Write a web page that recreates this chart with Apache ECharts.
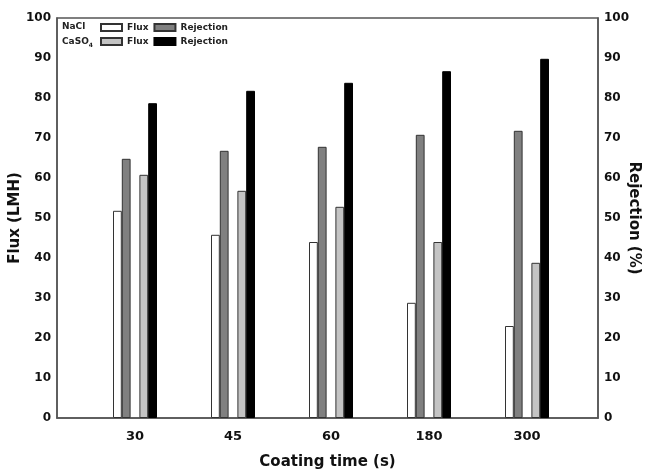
<!DOCTYPE html>
<html><head><meta charset="utf-8">
<script src="https://cdn.jsdelivr.net/npm/echarts@6/dist/echarts.min.js"></script>
<style>html,body{margin:0;padding:0;background:#fff}#c{width:650px;height:473px}</style>
</head><body><div id="c"></div>
<script>
const categories = ['30', '45', '60', '180', '300'];
const naclFlux = [51.8, 45.8, 44, 28.8, 23];
const naclRejection = [64.8, 66.8, 67.8, 70.8, 71.8];
const caso4Flux = [60.8, 56.8, 52.8, 44, 38.8];
const caso4Rejection = [78.7, 81.8, 83.8, 86.7, 89.8];
const yTicks = [0, 100, 10];

const F = 'DejaVu Sans';
const axisLineStyle = { color: '#555', width: 1.5 };
const chart = echarts.init(document.getElementById('c'));
const barBase = { type: 'bar', xAxisIndex: 1, yAxisIndex: 2, barWidth: 8.8, barGap: '0%' };
const legText = { fontFamily: F, fontSize: 9, fontWeight: 'bold', color: '#222' };
chart.setOption({
  animation: false,
  title: [
    { text: 'NaCl', left: 62, top: 22, padding: 0, textStyle: legText },
    { text: 'CaSO{s|4}', left: 62, top: 36, padding: 0, textStyle: Object.assign({}, legText, { rich: { s: { fontFamily: F, fontSize: 6, fontWeight: 'bold', color: '#222', verticalAlign: 'bottom', padding: [6, 0, 0, 0] } } }) }
  ],
  legend: [
    { data: ['NaCl Flux', 'NaCl Rejection'], left: 100, top: 23, icon: 'rect', itemWidth: 21, itemHeight: 7, itemGap: 5, padding: 0,
      formatter: n => n.split(' ')[1], textStyle: legText },
    { data: ['CaSO4 Flux', 'CaSO4 Rejection'], left: 100, top: 37, icon: 'rect', itemWidth: 21, itemHeight: 7, itemGap: 5, padding: 0,
      formatter: n => n.split(' ')[1], textStyle: legText }
  ],
  grid: [
    { left: 57, right: 52, top: 18, bottom: 55, show: true, borderColor: '#555', borderWidth: 1.5, containLabel: false, outerBoundsMode: 'none' },
    { left: 86, right: 74, top: 18, bottom: 55, containLabel: false, outerBoundsMode: 'none' }
  ],
  xAxis: [
    { type: 'value', gridIndex: 0, min: 0, max: 1, axisLine: { show: true, lineStyle: axisLineStyle }, axisTick: { show: false },
      axisLabel: { show: false }, splitLine: { show: false },
      name: 'Coating time (s)', nameLocation: 'middle', nameGap: 37, nameMoveOverlap: false,
      nameTextStyle: { fontFamily: F, fontSize: 15, fontWeight: 'bold', color: '#111' } },
    { type: 'category', gridIndex: 1, data: categories, axisLine: { show: false }, axisTick: { show: false },
      axisLabel: { fontFamily: F, fontSize: 13, fontWeight: 'bold', color: '#111', margin: 12 } }
  ],
  yAxis: [
    { type: 'value', gridIndex: 0, position: 'left', min: yTicks[0], max: yTicks[1], interval: yTicks[2],
      axisLine: { show: true, lineStyle: axisLineStyle }, axisTick: { show: false }, splitLine: { show: false },
      axisLabel: { fontFamily: F, fontSize: 12, fontWeight: 'bold', color: '#111', margin: 6 },
      name: 'Flux (LMH)', nameLocation: 'middle', nameGap: 34, nameMoveOverlap: false,
      nameTextStyle: { fontFamily: F, fontSize: 15, fontWeight: 'bold', color: '#111' } },
    { type: 'value', gridIndex: 0, position: 'right', min: yTicks[0], max: yTicks[1], interval: yTicks[2],
      axisLine: { show: true, lineStyle: axisLineStyle }, axisTick: { show: false }, splitLine: { show: false },
      axisLabel: { fontFamily: F, fontSize: 12, fontWeight: 'bold', color: '#111', margin: 6 },
      name: 'Rejection (%)', nameLocation: 'middle', nameGap: 28, nameRotate: -90, nameMoveOverlap: false,
      nameTextStyle: { fontFamily: F, fontSize: 15, fontWeight: 'bold', color: '#111' } },
    { type: 'value', gridIndex: 1, min: yTicks[0], max: yTicks[1], show: false }
  ],
  series: [
    Object.assign({ name: 'NaCl Flux', data: naclFlux, itemStyle: { color: '#ffffff', borderColor: '#333', borderWidth: 1 } }, barBase),
    Object.assign({ name: 'NaCl Rejection', data: naclRejection, itemStyle: { color: '#808080', borderColor: '#333', borderWidth: 1 } }, barBase),
    Object.assign({ name: 'gap', data: categories.map(() => '-'), itemStyle: { color: 'transparent' } }, barBase),
    Object.assign({ name: 'CaSO4 Flux', data: caso4Flux, itemStyle: { color: '#c4c4c4', borderColor: '#333', borderWidth: 1 } }, barBase),
    Object.assign({ name: 'CaSO4 Rejection', data: caso4Rejection, itemStyle: { color: '#000000', borderColor: '#000', borderWidth: 1 } }, barBase)
  ]
});
</script></body></html>
